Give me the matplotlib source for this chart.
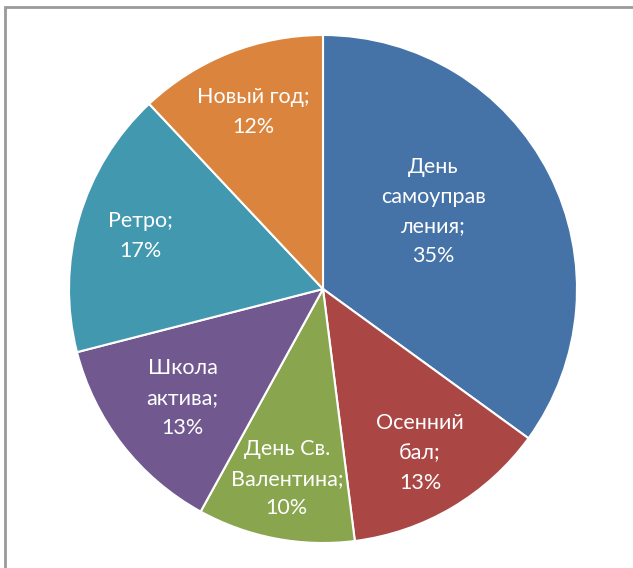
import matplotlib.pyplot as plt
import numpy as np
from matplotlib.patches import Rectangle

plt.rcParams['font.family'] = ['Lato', 'DejaVu Sans']

labels = ["День\nсамоуправ\nления;", "Осенний\nбал;", "День Св.\nВалентина;",
          "Школа\nактива;", "Ретро;", "Новый год;"]
values = [35, 13, 10, 13, 17, 12]
colors = ["#4572A7", "#AA4643", "#89A54E", "#71588F", "#4198AF", "#DB843D"]
label_r = [0.53, 0.75, 0.76, 0.70, 0.75, 0.75]

W, H = 633, 568
fig = plt.figure(figsize=(W / 100, H / 100), dpi=100)

# рамка диаграммы
fig.patches.append(Rectangle((5 / W, -0.1), 1.1, (H - 7) / H + 0.1,
                             transform=fig.transFigure, fill=False,
                             edgecolor="#9a9a9a", linewidth=2))

cx, cy, R = 323, 289, 254
ax = fig.add_axes([(cx - R) / W, (H - cy - R) / H, 2 * R / W, 2 * R / H])

wedges, _ = ax.pie(values, colors=colors, startangle=90, counterclock=False,
                   radius=1, wedgeprops=dict(edgecolor="white", linewidth=1.5))

for w, lab, v, r in zip(wedges, labels, values, label_r):
    ang = np.deg2rad((w.theta1 + w.theta2) / 2)
    if v == 35:
        ang += np.deg2rad(8)
    ax.text(r * np.cos(ang), r * np.sin(ang), f"{lab}\n{v}%", ha="center",
            va="center", color="white", fontsize=15.5, linespacing=1.6)

ax.set_xlim(-1, 1)
ax.set_ylim(-1, 1)
ax.axis("off")

fig.savefig("out.png", dpi=100)
